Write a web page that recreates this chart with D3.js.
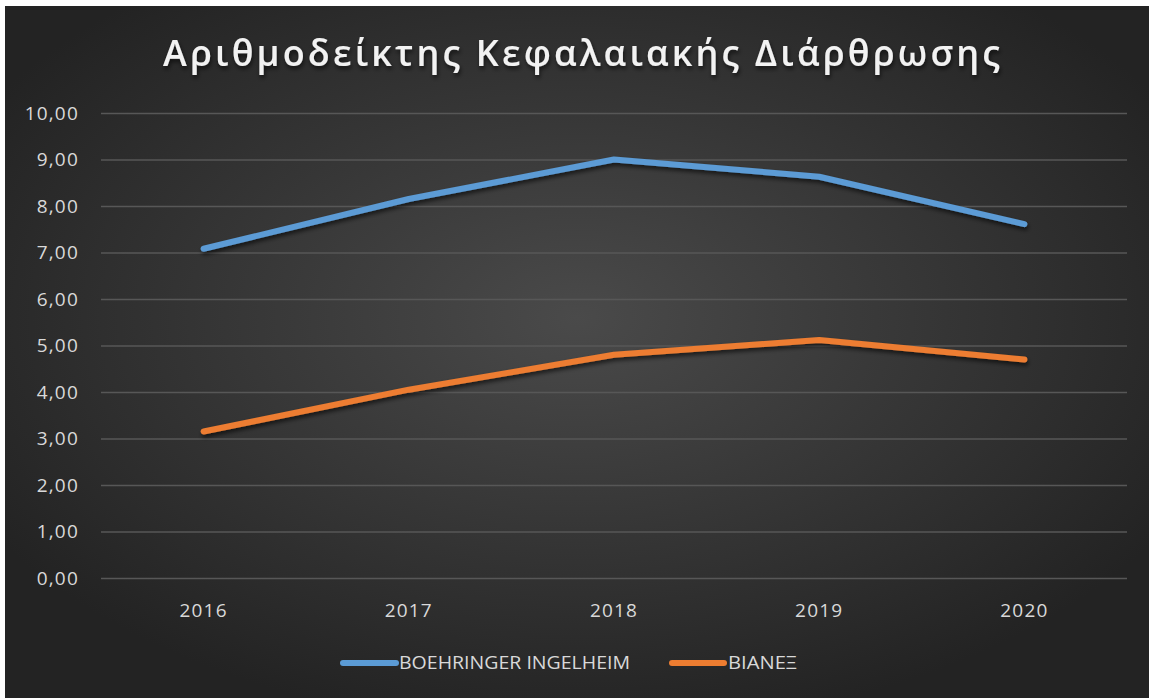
<!DOCTYPE html>
<html><head><meta charset="utf-8">
<script src="https://cdn.jsdelivr.net/npm/d3@7"></script>
<style>body{margin:0;background:#fff;}svg{display:block;}</style>
</head><body>
<svg id="c" width="1149" height="698"></svg>
<script>
const categories = ["2016","2017","2018","2019","2020"];
const boehringer = [7.08, 8.15, 9.00, 8.63, 7.61];
const vianex = [3.15, 4.05, 4.80, 5.12, 4.70];
const yTicks = [0,1,2,3,4,5,6,7,8,9,10];
const seriesNames = ["BOEHRINGER INGELHEIM","ΒΙΑΝΕΞ"];
const colors = ["#5b9bd5","#ed7d31"];

const svg = d3.select("#c");
const W = 1149, H = 698;
const defs = svg.append("defs");
const rg = defs.append("radialGradient").attr("id","bg").attr("cx","0.5").attr("cy","0.45").attr("r","0.6");
rg.append("stop").attr("offset","0").attr("stop-color","#4a4a4a");
rg.append("stop").attr("offset","1").attr("stop-color","#232323");
const f = defs.append("filter").attr("id","sh").attr("x","-5%").attr("y","-20%").attr("width","110%").attr("height","140%");
f.append("feDropShadow").attr("dx",1).attr("dy",3).attr("stdDeviation",2).attr("flood-color","#000").attr("flood-opacity",0.6);

svg.append("rect").attr("x",5).attr("y",6).attr("width",W-5).attr("height",H-6).attr("fill","url(#bg)");

const x = d3.scaleBand().domain(categories).range([101,1127]);
const y = d3.scaleLinear().domain([0,10]).range([578,113]);

svg.append("text").attr("x",581.5).attr("y",66).attr("text-anchor","middle")
  .attr("font-family","Open Sans").attr("font-weight",600).attr("font-size",36)
  .attr("textLength",837).attr("lengthAdjust","spacing")
  .attr("fill","#f2f2f2").attr("filter","url(#sh)")
  .text("Αριθμοδείκτης Κεφαλαιακής Διάρθρωσης");

const yAxis = d3.axisLeft(y).tickValues(yTicks).tickSize(-(1127-101)).tickFormat(d=>d3.format(".2f")(d).replace(".",","));
const ga = svg.append("g").attr("transform","translate(101,0)").call(yAxis);
ga.select(".domain").remove();
ga.selectAll("line").attr("stroke","#575757").attr("stroke-width",1.5);
ga.selectAll("text").attr("x",-22).attr("fill","#d9d9d9").attr("font-family","Open Sans").attr("font-size",19).attr("letter-spacing",1.2);

const xAxis = d3.axisBottom(x).tickSize(0);
const gx = svg.append("g").attr("transform","translate(0,578)").call(xAxis);
gx.select(".domain").remove();
gx.selectAll("text").attr("dy",0).attr("y",39).attr("fill","#d9d9d9").attr("font-family","Open Sans").attr("font-size",19).attr("letter-spacing",1.2);

const line = d3.line().x((d,i)=>x(categories[i])+x.bandwidth()/2).y(d=>y(d));
[boehringer, vianex].forEach((s,i)=>{
  svg.append("path").datum(s).attr("d",line).attr("fill","none").attr("stroke",colors[i])
    .attr("stroke-width",6).attr("stroke-linecap","round").attr("stroke-linejoin","round").attr("filter","url(#sh)");
});

const leg = [{x0:343,x1:396,tx:399,tl:231},{x0:672,x1:724,tx:728,tl:69}];
seriesNames.forEach((n,i)=>{
  svg.append("line").attr("x1",leg[i].x0).attr("x2",leg[i].x1).attr("y1",663).attr("y2",663)
    .attr("stroke",colors[i]).attr("stroke-width",6).attr("stroke-linecap","round");
  svg.append("text").attr("x",leg[i].tx).attr("y",669).attr("fill","#d9d9d9")
    .attr("font-family","Open Sans").attr("font-size",19)
    .attr("textLength",leg[i].tl).attr("lengthAdjust","spacingAndGlyphs").text(n);
});
</script>
</body></html>
